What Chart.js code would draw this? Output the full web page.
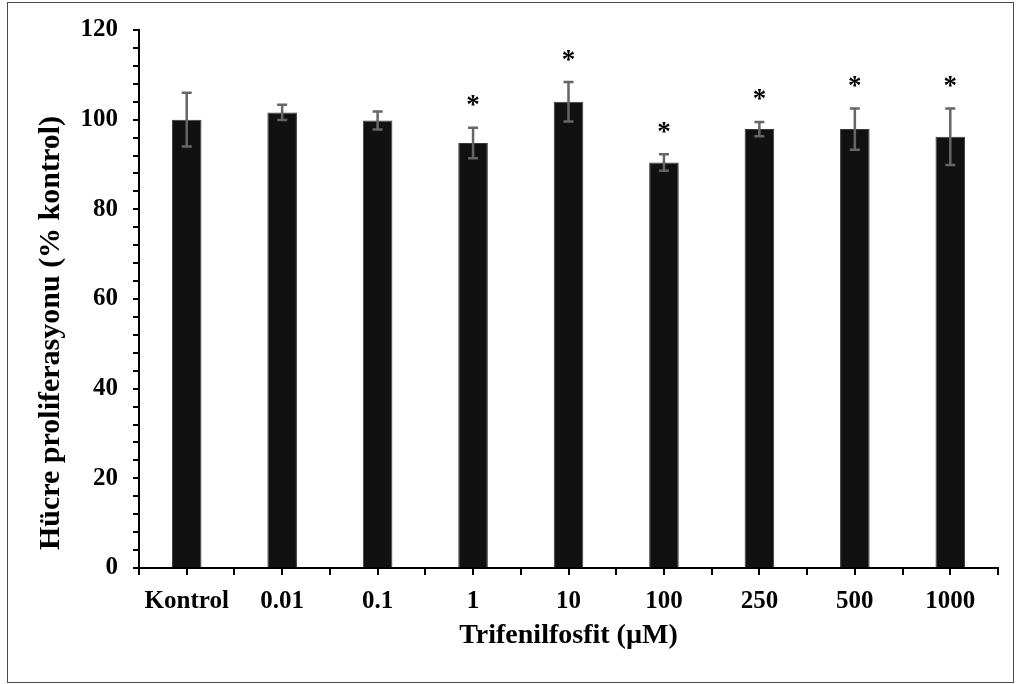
<!DOCTYPE html>
<html>
<head>
<meta charset="utf-8">
<script src="https://cdn.jsdelivr.net/npm/chart.js@4.4.1/dist/chart.umd.min.js"></script>
<style>
  html, body { margin: 0; padding: 0; background: #fff; }
  #wrap { width: 1019px; height: 684px; }
</style>
</head>
<body>
<div id="wrap"><canvas id="c" width="1019" height="684"></canvas></div>
<script>
// Concentrations of triphenyl phosphite (first group is the untreated control)
const categories = ['Kontrol', '0.01', '0.1', '1', '10', '100', '250', '500', '1000'];
// Mean cell proliferation, % of control
const means = [100, 101.6, 99.8, 94.8, 104.0, 90.45, 97.9, 97.9, 96.2];
// Standard deviations
const sds = [6.0, 1.7, 2.0, 3.4, 4.4, 1.85, 1.6, 4.6, 6.3];
// Significant difference from control
const significant = [false, false, false, true, true, true, true, true, true];
// Labelled y-axis values
const yTickLabels = [0, 20, 40, 60, 80, 100, 120];
const yTitle = 'Hücre proliferasyonu (% kontrol)';
const xTitle = 'Trifenilfosfit (µM)';

const SERIF = '"Liberation Serif", "Times New Roman", serif';

// Frame around the whole figure
const framePlugin = {
  id: 'frame',
  beforeDraw(chart) {
    const ctx = chart.ctx;
    ctx.save();
    ctx.fillStyle = '#fff';
    ctx.fillRect(0, 0, chart.width, chart.height);
    ctx.strokeStyle = '#4a4a4a';
    ctx.lineWidth = 1;
    ctx.strokeRect(7.5, 2.5, 1006, 680);
    ctx.restore();
  }
};

// Rotated y-axis title, set a little below the plot's middle
const yTitlePlugin = {
  id: 'yTitle',
  afterDraw(chart) {
    const ctx = chart.ctx;
    const area = chart.chartArea;
    ctx.save();
    ctx.translate(51, (area.top + area.bottom) / 2 + 34);
    ctx.rotate(-Math.PI / 2);
    ctx.font = 'bold 30px ' + SERIF;
    ctx.fillStyle = '#000';
    ctx.textAlign = 'center';
    ctx.textBaseline = 'middle';
    ctx.fillText(yTitle, 0, 0);
    ctx.restore();
  }
};

// Extra tick marks under the centre of every category
const centreTicksPlugin = {
  id: 'centreTicks',
  afterDraw(chart) {
    const ctx = chart.ctx;
    const xs = chart.scales.x;
    const y0 = chart.chartArea.bottom;
    ctx.save();
    ctx.strokeStyle = '#000';
    ctx.lineWidth = 2;
    categories.forEach((c, i) => {
      const x = Math.round(xs.getPixelForValue(i));
      ctx.beginPath();
      ctx.moveTo(x, y0);
      ctx.lineTo(x, y0 + 7);
      ctx.stroke();
    });
    ctx.restore();
  }
};

// Error bars (mean ± SD) and significance asterisks
const errorBarPlugin = {
  id: 'errorBars',
  afterDatasetsDraw(chart) {
    const ctx = chart.ctx;
    const ys = chart.scales.y;
    const meta = chart.getDatasetMeta(0);
    ctx.save();
    ctx.strokeStyle = '#666';
    ctx.lineWidth = 2.5;
    meta.data.forEach((bar, i) => {
      const x = bar.x;
      const top = ys.getPixelForValue(means[i] + sds[i]);
      const bot = ys.getPixelForValue(means[i] - sds[i]);
      const cap = 5;
      ctx.beginPath();
      ctx.moveTo(x, top); ctx.lineTo(x, bot);
      ctx.moveTo(x - cap, top); ctx.lineTo(x + cap, top);
      ctx.moveTo(x - cap, bot); ctx.lineTo(x + cap, bot);
      ctx.stroke();
      if (significant[i]) {
        ctx.font = 'bold 27px ' + SERIF;
        ctx.fillStyle = '#000';
        ctx.textAlign = 'center';
        ctx.textBaseline = 'alphabetic';
        const m = ctx.measureText('*');
        const cy = top - 27;
        const base = cy + (m.actualBoundingBoxAscent - m.actualBoundingBoxDescent) / 2;
        ctx.fillText('*', x, base);
      }
    });
    ctx.restore();
  }
};

new Chart(document.getElementById('c'), {
  type: 'bar',
  data: {
    labels: categories,
    datasets: [{
      data: means,
      backgroundColor: '#111111',
      borderColor: '#3a3a3a',
      borderWidth: 1,
      categoryPercentage: 1,
      barPercentage: 0.31
    }]
  },
  options: {
    responsive: false,
    animation: false,
    devicePixelRatio: 1,
    layout: { padding: { left: 34, right: 21, top: 28, bottom: 31 } },
    plugins: {
      legend: { display: false },
      tooltip: { enabled: false }
    },
    scales: {
      x: {
        grid: {
          offset: true,
          drawOnChartArea: false,
          drawTicks: true,
          tickLength: 7,
          color: '#000',
          lineWidth: 2
        },
        border: { color: '#000', width: 2 },
        ticks: {
          color: '#000',
          padding: 12,
          maxRotation: 0,
          autoSkip: false,
          font: { family: SERIF, weight: 'bold', size: 25 }
        },
        title: {
          display: true,
          text: xTitle,
          color: '#000',
          padding: { top: 0, bottom: 0 },
          font: { family: SERIF, weight: 'bold', size: 28 }
        },
        afterFit(scale) { scale.height = 85; }
      },
      y: {
        min: 0,
        max: 120,
        grid: {
          drawOnChartArea: false,
          drawTicks: true,
          tickLength: 6,
          color: '#000',
          lineWidth: 2
        },
        border: { color: '#000', width: 2 },
        ticks: {
          stepSize: 4,
          maxTicksLimit: 100,
          autoSkip: false,
          color: '#000',
          padding: 15,
          font: { family: SERIF, weight: 'bold', size: 25 },
          callback: (v) => yTickLabels.includes(v) ? String(v) : ''
        },
        title: { display: false },
        afterFit(scale) { scale.width = 105; }
      }
    }
  },
  plugins: [framePlugin, yTitlePlugin, centreTicksPlugin, errorBarPlugin]
});
</script>
</body>
</html>
